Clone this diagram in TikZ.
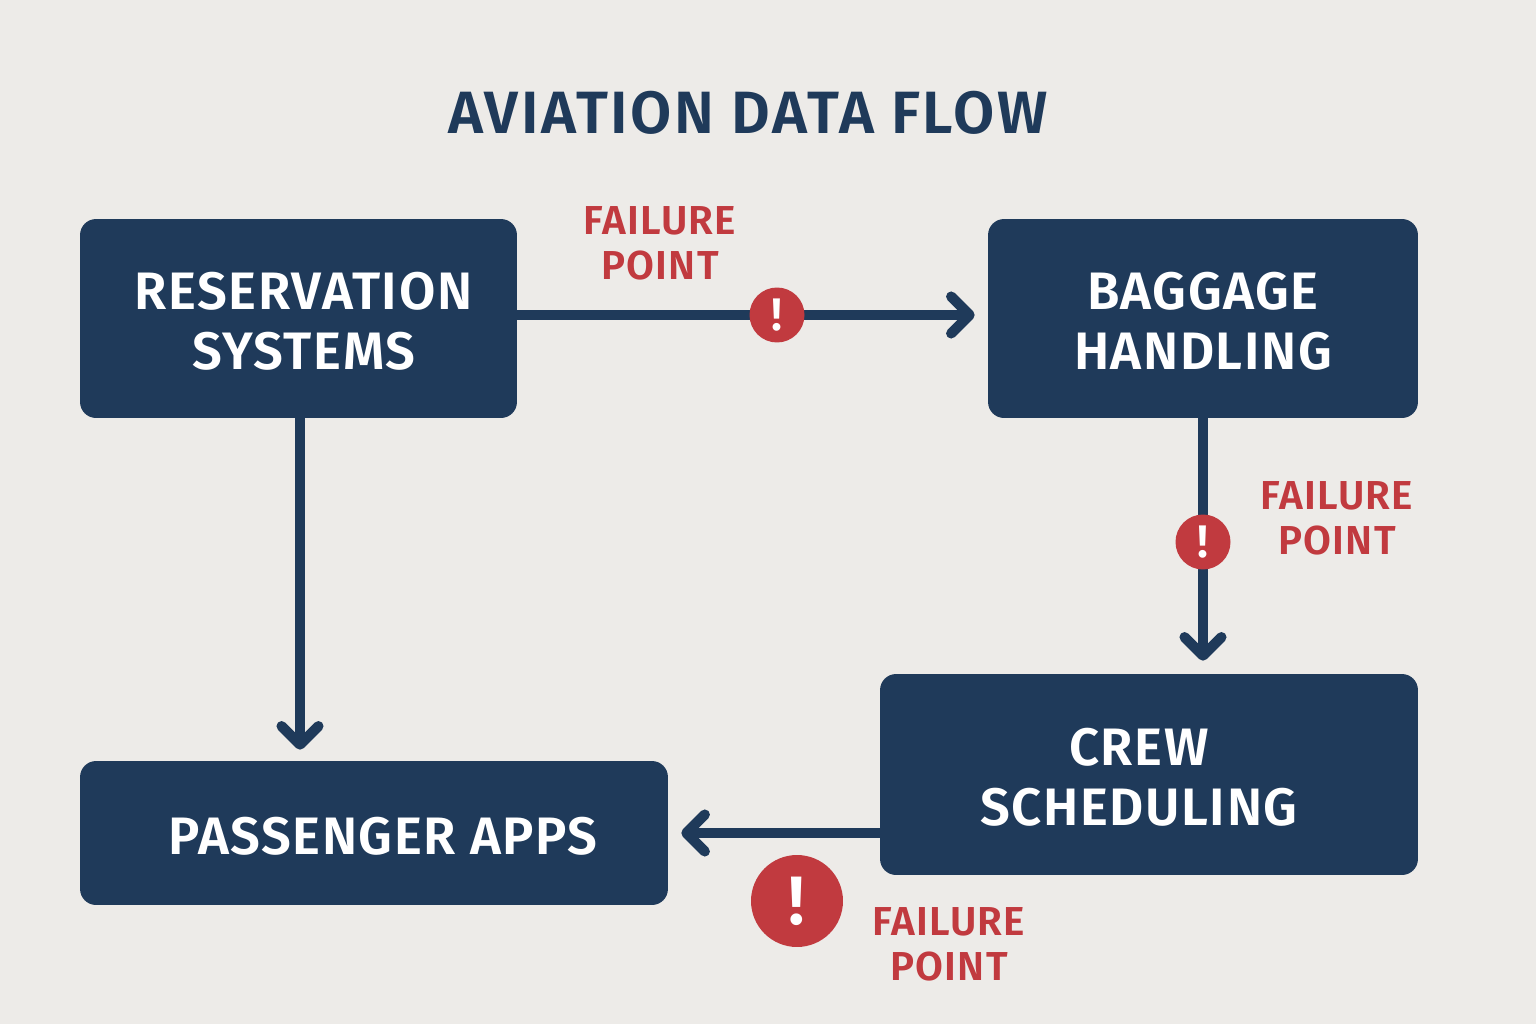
\documentclass[tikz,border=0pt]{standalone}
\usepackage{fontspec}
\setmainfont{Fira Sans}[BoldFont={Fira Sans SemiBold}]
\newfontfamily\widerfont{Fira Sans SemiBold}[LetterSpace=3]
\newfontfamily\titlefont{Fira Sans SemiBold}[LetterSpace=4.4]
\usepackage{xcolor}
\usetikzlibrary{arrows.meta}
\definecolor{paperbg}{RGB}{237,235,232}
\definecolor{navyblue}{RGB}{31,58,90}
\definecolor{alertred}{RGB}{193,58,63}
\newcommand{\boxtop}{\rule{0pt}{24.5pt}}
\tikzset{
  boxnode/.style={fill=navyblue,text=white,rounded corners=0.32cm,inner sep=0pt,align=center,font=\widerfont\fontsize{30}{34}\selectfont},
  flowline/.style={draw=navyblue,line width=5.8pt,shorten >=0.26cm,-{Straight Barb[round,length=10.5pt,width=21pt,line width=5.8pt]}},
  failicon/.style={circle,fill=alertred,text=white,inner sep=0pt,font=\fontsize{26}{26}\selectfont\bfseries},
  faillabel/.style={text=alertred,align=center,inner sep=0pt,font=\widerfont\fontsize{23}{25.5}\selectfont}
}
\begin{document}
\begin{tikzpicture}[x=0.02cm,y=-0.02cm]
  \fill[paperbg](0,0) rectangle (1536,1024);
  \node[text=navyblue,font=\titlefont\fontsize{34}{34}\selectfont] (title) at (748,113) {AVIATION DATA FLOW};
  % boxes
  \node[boxnode,minimum width=8.74cm,minimum height=3.98cm] (reservation) at (298.5,318.5) {\boxtop\hspace*{0.2cm}RESERVATION\\\hspace*{0.2cm}SYSTEMS};
  \node[boxnode,minimum width=8.6cm,minimum height=3.98cm] (baggage) at (1203,318.5) {\boxtop BAGGAGE\\HANDLING};
  \node[boxnode,minimum width=10.76cm,minimum height=4.02cm] (crew) at (1149,774.5) {\boxtop\hspace*{-0.4cm}CREW\\\hspace*{-0.4cm}SCHEDULING};
  \node[boxnode,minimum width=11.76cm,minimum height=2.88cm] (passenger) at (374,833) {\boxtop\hspace*{0.36cm}PASSENGER APPS};
  % connectors
  \draw[flowline] ([yshift=0.07cm]reservation.east) -- ([yshift=0.07cm]baggage.west);
  \draw[flowline,shorten >=0.22cm] ([xshift=0.03cm]reservation.south) -- ([xshift=0.03cm]reservation.south |- passenger.north);
  \draw[flowline] (baggage.south) -- (baggage.south |- crew.north);
  \draw[flowline] (crew.west |- passenger.east) -- (passenger.east);
  % failure points
  \node[failicon,minimum size=1.1cm] (failone) at (777,315) {!};
  \node[failicon,minimum size=1.1cm] (failtwo) at (1203,542) {!};
  \node[failicon,minimum size=1.84cm,font=\fontsize{39}{39}\selectfont\bfseries] (failthree) at (797,901) {!};
  \node[faillabel] (labelone) at (660,243.5) {FAILURE\\POINT};
  \node[faillabel] (labeltwo) at (1337,518.5) {FAILURE\\POINT};
  \node[faillabel] (labelthree) at (949,944) {FAILURE\\POINT};
\end{tikzpicture}
\end{document}
